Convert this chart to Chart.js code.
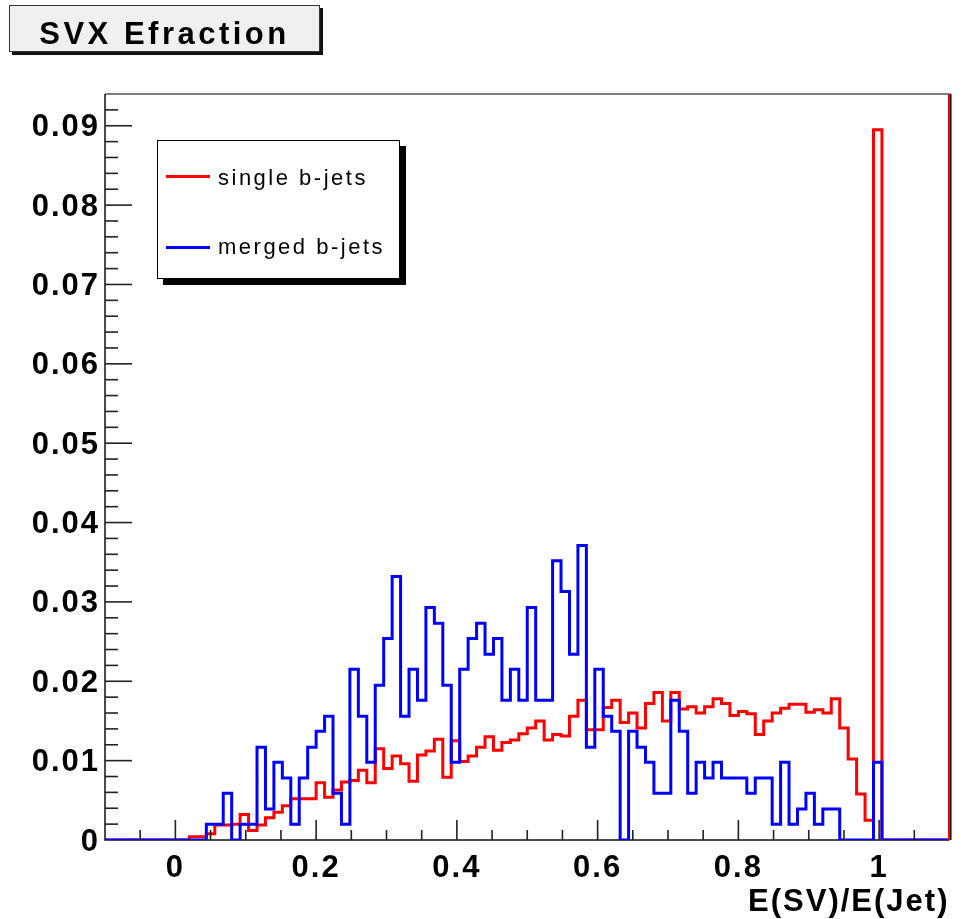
<!DOCTYPE html>
<html>
<head>
<meta charset="utf-8">
<script src="https://cdn.jsdelivr.net/npm/chart.js@4/dist/chart.umd.min.js"></script>
<style>
  html, body { margin: 0; padding: 0; background: #fff; }
  #wrap { position: relative; width: 965px; height: 919px; overflow: hidden; }
  #c { position: absolute; left: 0; top: 0; }
  #title {
    position: absolute; left: 9px; top: 5px; width: 311px; height: 47px; box-sizing: border-box;
    background: #f0f0f0; border: 1.5px solid #333; box-shadow: 3px 3px 0 #111;
  }
  #title span {
    position: absolute; left: 0; right: 0; top: 10px; line-height: 36px; text-align: center;
    font: bold 31px "Liberation Sans", Arial, sans-serif; letter-spacing: 3.5px; color: #000; white-space: nowrap;
  }
  #legend {
    position: absolute; left: 157px; top: 140px; width: 243px; height: 139px; box-sizing: border-box;
    background: #fff; border: 1px solid #000; box-shadow: 6px 6px 0 #000;
  }
  .lg-line { position: absolute; left: 8px; width: 44px; height: 3px; }
  .lg-text {
    position: absolute; left: 60px; line-height: 26px; white-space: nowrap;
    font: 22px "Liberation Sans", Arial, sans-serif; letter-spacing: 2.5px; color: #000;
  }
</style>
</head>
<body>
<div id="wrap">
  <canvas id="c" width="965" height="919"></canvas>
  <div id="title"><span>SVX Efraction</span></div>
  <div id="legend"></div>
</div>
<script>
// ---------------- data ----------------
const X_MIN = -0.1, X_MAX = 1.1, N_BINS = 100;      // histogram binning
const Y_MAX = 0.094;
const xTickLabels = ['0', '0.2', '0.4', '0.6', '0.8', '1'];
const yTickLabels = ['0', '0.01', '0.02', '0.03', '0.04', '0.05', '0.06', '0.07', '0.08', '0.09'];
const seriesNames = ['single b-jets', 'merged b-jets'];
const xTitle = 'E(SV)/E(Jet)';

// bin contents, bins 0..99
const singleBJets = [
  0, 0, 0, 0, 0, 0, 0, 0, 0, 0,
  0.0004, 0.0004, 0.0008, 0.0019, 0.0019, 0.0020, 0.0032, 0.0012, 0.0019, 0.0028,
  0.0035, 0.0043, 0.0052, 0.0052, 0.0052, 0.0072, 0.0054, 0.0063, 0.0073, 0.0075,
  0.0088, 0.0072, 0.0115, 0.0090, 0.0106, 0.0096, 0.0074, 0.0107, 0.0112, 0.0127,
  0.0079, 0.0125, 0.0099, 0.0106, 0.0117, 0.0130, 0.0113, 0.0123, 0.0126, 0.0134,
  0.0141, 0.0150, 0.0126, 0.0133, 0.0131, 0.0156, 0.0176, 0.0139, 0.0139, 0.0167,
  0.0176, 0.0148, 0.0160, 0.0141, 0.0172, 0.0186, 0.0150, 0.0186, 0.0165, 0.0168,
  0.0160, 0.0168, 0.0178, 0.0172, 0.0157, 0.0162, 0.0159, 0.0133, 0.0150, 0.0160,
  0.0166, 0.0171, 0.0171, 0.0161, 0.0164, 0.0160, 0.0178, 0.0141, 0.0102, 0.0058,
  0.0025, 0.0895, 0, 0, 0, 0, 0, 0, 0, 0
];
const mergedBJets = [
  0, 0, 0, 0, 0, 0, 0, 0, 0, 0,
  0, 0, 0.0020, 0.0020, 0.0059, 0, 0.0020, 0.0020, 0.0117, 0.0039,
  0.0098, 0.0078, 0.0020, 0.0078, 0.0117, 0.0137, 0.0156, 0.0059, 0.0020, 0.0215,
  0.0156, 0.0098, 0.0195, 0.0254, 0.0332, 0.0156, 0.0215, 0.0176, 0.0293, 0.0273,
  0.0195, 0.0098, 0.0215, 0.0254, 0.0273, 0.0234, 0.0254, 0.0176, 0.0215, 0.0176,
  0.0293, 0.0176, 0.0176, 0.0352, 0.0313, 0.0234, 0.0371, 0.0117, 0.0215, 0.0156,
  0.0137, 0, 0.0137, 0.0117, 0.0098, 0.0059, 0.0059, 0.0176, 0.0137, 0.0059,
  0.0098, 0.0078, 0.0098, 0.0078, 0.0078, 0.0078, 0.0059, 0.0078, 0.0078, 0.0020,
  0.0098, 0.0020, 0.0039, 0.0059, 0.0020, 0.0039, 0.0039, 0, 0, 0,
  0, 0.0098, 0, 0, 0, 0, 0, 0, 0, 0
];
const seriesColors = ['#ff0000', '#0000ff'];

// ---------------- build ----------------
const binWidth = (X_MAX - X_MIN) / N_BINS;
const binEdges = Array.from({ length: N_BINS + 1 }, (_, k) => +(X_MIN + k * binWidth).toFixed(6));
function histPoints(values) {
  const pts = values.map((v, k) => ({ x: binEdges[k], y: v }));
  pts.push({ x: binEdges[N_BINS], y: values[N_BINS - 1] });
  return pts;
}
const findLabel = (list, v) => {
  const s = list.find(l => Math.abs(Number(l) - v) < 1e-9);
  return s === undefined ? '' : s;
};

const FONT = "'Liberation Sans', Arial, Helvetica, sans-serif";
Chart.defaults.font.family = FONT;
Chart.defaults.color = '#000';

const frameAndTicks = {
  id: 'frameAndTicks',
  beforeDraw(chart) {
    try { chart.ctx.letterSpacing = '2px'; } catch (e) {}
  },
  beforeDatasetsDraw(chart) {
    const { ctx, chartArea: a } = chart;
    ctx.save();
    ctx.lineWidth = 1.5;
    ctx.strokeStyle = '#555';
    ctx.beginPath(); ctx.moveTo(a.left, a.top); ctx.lineTo(a.right + 1, a.top); ctx.stroke();
    ctx.strokeStyle = '#111';
    ctx.beginPath(); ctx.moveTo(a.left, a.top); ctx.lineTo(a.left, a.bottom); ctx.lineTo(a.right, a.bottom); ctx.stroke();
    ctx.beginPath(); ctx.moveTo(a.right + 1.3, a.top); ctx.lineTo(a.right + 1.3, a.bottom); ctx.stroke();
    ctx.restore();
  },
  afterDatasetsDraw(chart) {
    const { ctx, chartArea: a, scales: { x, y } } = chart;
    ctx.save();
    ctx.strokeStyle = '#222';
    ctx.lineWidth = 1.6;
    x.ticks.forEach(t => {
      const px = x.getPixelForValue(t.value);
      if (px <= a.left + 1 || px >= a.right - 1) return;
      const len = t.label !== '' ? 20 : 10;
      ctx.beginPath(); ctx.moveTo(px, a.bottom); ctx.lineTo(px, a.bottom - len); ctx.stroke();
    });
    y.ticks.forEach(t => {
      const py = y.getPixelForValue(t.value);
      if (py <= a.top + 1 || py >= a.bottom - 1) return;
      const len = t.label !== '' ? 27 : 13;
      ctx.beginPath(); ctx.moveTo(a.left, py); ctx.lineTo(a.left + len, py); ctx.stroke();
    });
    // red edge on the right side of the frame
    ctx.strokeStyle = '#ff0000';
    ctx.lineWidth = 2;
    ctx.beginPath(); ctx.moveTo(a.right - 0.5, a.top); ctx.lineTo(a.right - 0.5, a.bottom); ctx.stroke();
    ctx.restore();
  }
};

const chart = new Chart(document.getElementById('c'), {
  type: 'line',
  data: {
    datasets: [
      { label: seriesNames[0], data: histPoints(singleBJets), borderColor: seriesColors[0], order: 2 },
      { label: seriesNames[1], data: histPoints(mergedBJets), borderColor: seriesColors[1], order: 1 }
    ]
  },
  options: {
    responsive: false,
    devicePixelRatio: 1,
    animation: false,
    datasets: {
      line: { stepped: true, borderWidth: 3, pointRadius: 0, fill: false, tension: 0, borderJoinStyle: 'miter', borderCapStyle: 'butt' }
    },
    layout: { padding: { left: 0, top: 94, right: 15.5, bottom: 0 } },
    plugins: { legend: { display: false }, tooltip: { enabled: false }, title: { display: false } },
    scales: {
      x: {
        type: 'linear', position: 'bottom', min: X_MIN, max: X_MAX,
        grid: { display: false }, border: { display: false },
        ticks: {
          stepSize: 0.05, autoSkip: false, maxRotation: 0, padding: 2,
          font: { size: 31, weight: 'bold' },
          callback: v => findLabel(xTickLabels, v)
        },
        title: { display: true, text: xTitle, align: 'end', font: { size: 31, weight: 'bold', lineHeight: 1 }, padding: { top: 0, bottom: 1 } },
        afterFit: s => { s.height = 79; }
      },
      y: {
        type: 'linear', position: 'left', min: 0, max: Y_MAX,
        grid: { display: false }, border: { display: false },
        ticks: {
          stepSize: 0.002, autoSkip: false, padding: -3, labelOffset: 2,
          font: { size: 31, weight: 'bold' },
          callback: v => findLabel(yTickLabels, v)
        },
        afterFit: s => { s.width = 105; }
      }
    }
  },
  plugins: [frameAndTicks]
});

// legend built from the datasets
const legendEl = document.getElementById('legend');
const lineTops = [33.5, 104.5];
const textTops = [23.5, 92.5];
chart.data.datasets.forEach((ds, i) => {
  const ln = document.createElement('div');
  ln.className = 'lg-line';
  ln.style.top = lineTops[i] + 'px';
  ln.style.background = ds.borderColor;
  legendEl.appendChild(ln);
  const tx = document.createElement('div');
  tx.className = 'lg-text';
  tx.style.top = textTops[i] + 'px';
  tx.textContent = ds.label;
  legendEl.appendChild(tx);
});
</script>
</body>
</html>
